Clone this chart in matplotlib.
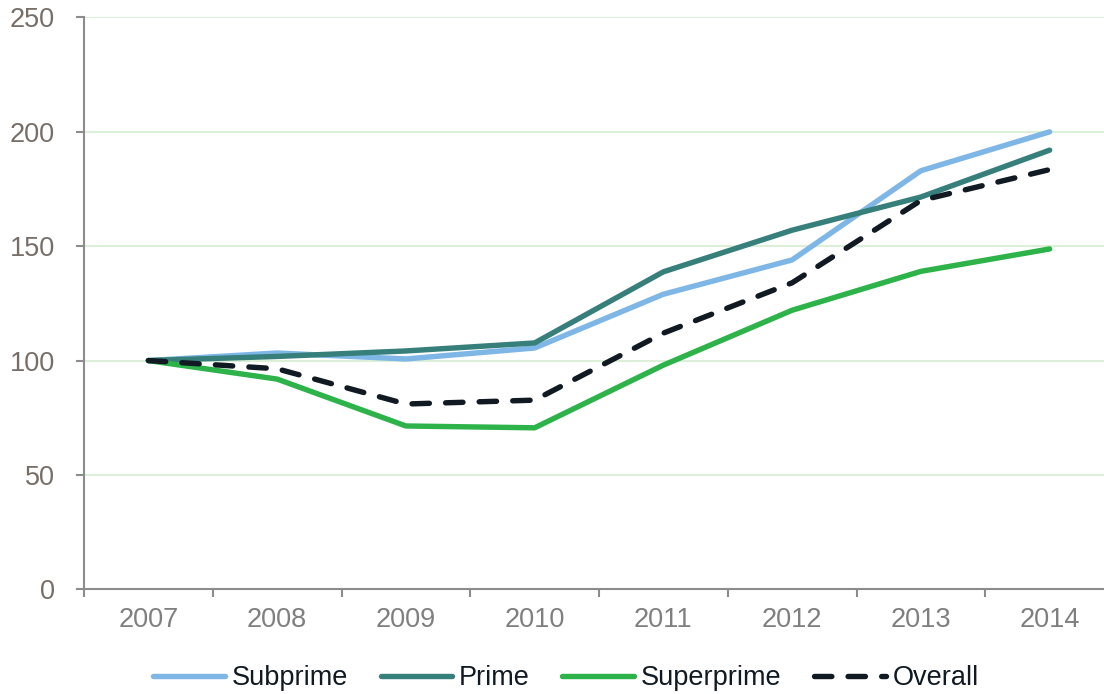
import numpy as np
import matplotlib.pyplot as plt
from matplotlib.ticker import FixedLocator

years = ["2007", "2008", "2009", "2010", "2011", "2012", "2013", "2014"]
subprime = [100, 103.3, 100.7, 105.5, 129, 144, 183, 200]
prime = [100, 101.8, 104.2, 107.7, 138.8, 157, 171.5, 192]
superprime = [100, 91.9, 71.4, 70.6, 98, 122, 139, 148.8]
overall = [100, 96.4, 81, 82.7, 112, 134, 170, 183.5]

plt.rcParams['font.family'] = ['Liberation Sans', 'DejaVu Sans']

fig = plt.figure(figsize=(11.04, 6.94), dpi=100)
ax = fig.add_axes([84/1104, 0.1509, 1030/1104, 0.8239])

x = np.arange(len(years))
lw = 3.9
ax.plot(x, subprime, color='#7EB6E6', lw=lw, label='Subprime', solid_capstyle='round', zorder=3)
ax.plot(x, prime, color='#367F7A', lw=lw, label='Prime', solid_capstyle='round', zorder=3)
ax.plot(x, superprime, color='#2DB34A', lw=lw, label='Superprime', solid_capstyle='round', zorder=3)
ax.plot(x, overall, color='#111A22', lw=lw, label='Overall', dashes=(3.2, 3.0),
        dash_capstyle='round', zorder=4)

ax.set_xlim(-0.5, len(years) - 0.5)
ax.set_ylim(0, 250)
ax.set_yticks([0, 50, 100, 150, 200, 250])
ax.set_xticks(x)
ax.set_xticklabels(years)
ax.xaxis.set_minor_locator(FixedLocator(np.arange(len(years) + 1) - 0.5))

ax.grid(axis='y', color='#DCEFD8', lw=1.5, zorder=0)
for s in ['top', 'right']:
    ax.spines[s].set_visible(False)
for s in ['left', 'bottom']:
    ax.spines[s].set_color('#8C8C8C')
    ax.spines[s].set_linewidth(1.5)

ax.tick_params(axis='x', which='major', length=0, pad=13, labelsize=19.5, labelcolor='#7F7F7F')
ax.tick_params(axis='x', which='minor', length=6, width=1.5, color='#8C8C8C', direction='out')
ax.tick_params(axis='y', length=6, width=1.5, color='#8C8C8C', pad=15, labelsize=19.5,
               labelcolor='#786E68')

fig.legend(loc='center', bbox_to_anchor=(566/1104, 1 - 678/694), ncol=4, frameon=False,
           fontsize=19.5, handlelength=2.65, handletextpad=0.25, columnspacing=1.2,
           labelcolor='#111A22')

fig.savefig('out.png', dpi=100)
